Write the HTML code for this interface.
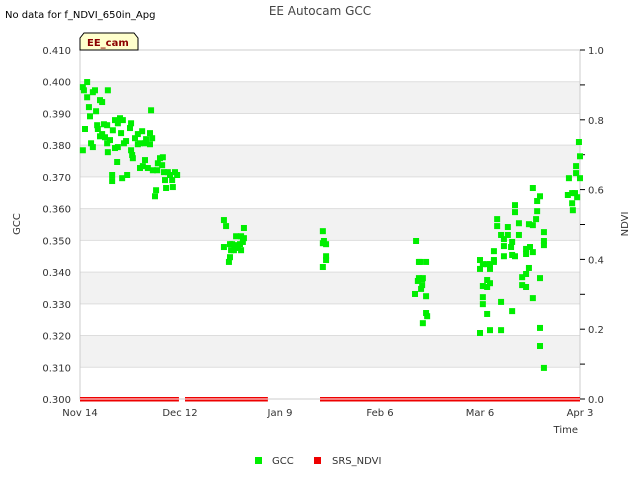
<!DOCTYPE html>
<html><head><meta charset="utf-8"><style>
body{margin:0;background:#fff;}
svg{font-family:"DejaVu Sans","Liberation Sans",sans-serif;}
</style></head><body>
<svg id="chart" width="640" height="480" xmlns="http://www.w3.org/2000/svg">
<text x="5" y="18" font-size="10" fill="#000">No data for f_NDVI_650in_Apg</text>
<text x="320" y="15" font-size="12" fill="#444" text-anchor="middle">EE Autocam GCC</text>
<g id="bands"></g>
<g id="grid"></g>
<rect x="80" y="50" width="500" height="349" fill="none" stroke="#ccc"/>
<g id="yticks"></g><g id="y2ticks"></g><g id="xticks"></g>
<g id="ndvi"></g><g id="gcc"></g>
<text x="20" y="224" font-size="10" fill="#333" text-anchor="middle" transform="rotate(-90 20 224)">GCC</text>
<text x="628" y="224" font-size="10" fill="#333" text-anchor="middle" transform="rotate(-90 628 224)">NDVI</text>
<text x="578" y="433" font-size="10" fill="#333" text-anchor="end">Time</text>
<g>
<path d="M80 50 L80 38 L84 33 L134 33 L138 38 L138 50 Z" fill="#ffffcc" stroke="#000"/>
<text x="87" y="46" font-size="10" font-weight="bold" fill="#8b0000">EE_cam</text>
</g>
<g>
<rect x="255" y="457" width="7" height="7" fill="#00ee00"/>
<text x="272" y="464" font-size="10" fill="#333">GCC</text>
<rect x="314" y="457" width="7" height="7" fill="#ee0000"/>
<text x="332" y="464" font-size="10" fill="#333">SRS_NDVI</text>
</g>
</svg>
<script>
const xTickLabels=["Nov 14","Dec 12","Jan 9","Feb 6","Mar 6","Apr 3"];
const xTickDays=[0,28,56,84,112,140];
const yTickLabels=["0.300","0.310","0.320","0.330","0.340","0.350","0.360","0.370","0.380","0.390","0.400","0.410"];
const y2TickLabels=["0.0","0.2","0.4","0.6","0.8","1.0"];
const gccDays=[0.8,1.1,2.0,2.0,1.4,0.8,2.5,2.8,3.1,3.6,3.6,4.2,4.5,4.8,5.0,5.6,6.2,5.6,6.2,6.7,7.0,7.6,7.8,7.6,7.8,8.4,9.0,9.0,9.2,9.8,9.8,10.4,10.6,10.6,11.2,11.5,11.8,12.0,12.3,12.9,13.2,14.0,14.3,14.3,14.6,14.8,15.4,16.2,16.2,16.8,16.8,17.6,18.2,18.2,19.0,19.6,19.9,20.2,20.4,21.0,21.3,21.6,21.8,22.4,23.0,23.2,23.5,23.8,24.1,24.6,25.2,25.8,26.0,26.6,27.2,19.6,18.5,17.4,
40.3,40.9,40.3,41.7,42.0,42.6,42.3,43.1,43.7,44.2,44.8,45.1,45.6,45.9,45.9,42.0,43.4,45.1,
68.0,68.0,68.0,68.3,68.9,68.9,68.9,
94.1,94.9,94.9,94.6,95.8,95.8,95.2,96.0,95.5,96.9,96.9,96.9,97.2,96.0,93.8,
112.0,112.0,112.8,114.0,114.8,114.8,115.9,115.9,115.9,116.8,116.8,117.9,118.7,118.7,118.7,119.8,119.8,120.7,121.0,121.0,121.8,121.8,121.8,122.9,122.9,124.9,124.9,126.0,125.7,126.8,126.8,126.8,128.0,128.0,127.7,128.8,129.9,129.9,129.9,114.0,112.8,114.0,114.8,112.8,112.8,114.0,112.0,114.8,117.9,117.9,121.0,123.8,123.8,124.9,124.9,125.7,126.8,128.8,128.8,128.8,129.9,
136.9,137.8,137.8,138.0,138.9,138.9,139.2,140.0,140.0,139.7,136.6,138.6];
const gccValues=[0.3983,0.3973,0.3999,0.3951,0.3851,0.3784,0.3920,0.3891,0.3806,0.3794,0.3967,0.3973,0.3907,0.3863,0.3851,0.3942,0.3936,0.3828,0.3835,0.3866,0.3825,0.3863,0.3973,0.3806,0.3778,0.3816,0.3687,0.3706,0.3847,0.3879,0.3791,0.3747,0.3794,0.3869,0.3885,0.3838,0.3696,0.3879,0.3806,0.3813,0.3706,0.3854,0.3784,0.3869,0.3769,0.3759,0.3822,0.3835,0.3803,0.3728,0.3806,0.3734,0.3806,0.3753,0.3728,0.3803,0.3910,0.3822,0.3721,0.3639,0.3658,0.3721,0.3743,0.3759,0.3737,0.3762,0.3715,0.3690,0.3665,0.3715,0.3706,0.3690,0.3668,0.3715,0.3706,0.3838,0.3819,0.3844,
0.3564,0.3545,0.3479,0.3432,0.3447,0.3488,0.3469,0.3469,0.3513,0.3476,0.3488,0.3469,0.3495,0.3539,0.3507,0.3488,0.3485,0.3513,
0.3529,0.3491,0.3416,0.3498,0.3488,0.3450,0.3438,
0.3498,0.3432,0.3381,0.3372,0.3378,0.3359,0.3432,0.3381,0.3347,0.3432,0.3324,0.3271,0.3261,0.3239,0.3331,
0.3438,0.3410,0.3425,0.3425,0.3425,0.3410,0.3466,0.3438,0.3432,0.3567,0.3545,0.3517,0.3504,0.3482,0.3450,0.3542,0.3517,0.3479,0.3495,0.3454,0.3611,0.3589,0.3450,0.3554,0.3517,0.3473,0.3457,0.3479,0.3551,0.3548,0.3463,0.3665,0.3624,0.3592,0.3567,0.3639,0.3526,0.3498,0.3485,0.3375,0.3356,0.3353,0.3365,0.3321,0.3299,0.3268,0.3208,0.3217,0.3217,0.3306,0.3277,0.3384,0.3359,0.3394,0.3353,0.3413,0.3318,0.3381,0.3224,0.3167,0.3098,
0.3696,0.3649,0.3617,0.3595,0.3734,0.3712,0.3636,0.3696,0.3765,0.3810,0.3643,0.3649];
const ndviStartDays=[0,29.4,67.2];
const ndviEndDays=[27.7,52.6,140];
const ndviValue=[0,0,0];

const NS="http://www.w3.org/2000/svg";
const X0=80,X1=580,Y0=399,Y1=50;
function xs(d){return X0+(d-0)/(140-0)*(X1-X0);}
function ys(v){return Y0-(v-0.300)/(0.410-0.300)*(Y0-Y1);}
function y2s(v){return Y0-v*(Y0-Y1);}
function mk(tag,attrs,parent){const e=document.createElementNS(NS,tag);for(const k in attrs)e.setAttribute(k,attrs[k]);document.getElementById(parent).appendChild(e);return e;}

for(let i=0;i<yTickLabels.length;i++){
  const v=parseFloat(yTickLabels[i]);
  if(i%2===1&&i<yTickLabels.length-1){
    const b=mk('rect',{x:X0,y:ys(v+0.01),width:X1-X0,height:ys(v)-ys(v+0.01),fill:'#f2f2f2'},'bands');
    
    
  }
  const g=mk('line',{x1:X0,x2:X1,y1:ys(v),y2:ys(v),stroke:'#ddd'},'grid');
  
  
  const t=mk('text',{x:71,y:ys(v)+4,'font-size':10,fill:'#333','text-anchor':'end'},'yticks');
  t.textContent=yTickLabels[i];
  
  
}
for(let i=0;i<=10;i++){
  const yy=y2s(i/10);
  const l=mk('line',{x1:X1,x2:X1+5,y1:yy,y2:yy,stroke:'#000'},'y2ticks');
  
  
}
for(let i=0;i<y2TickLabels.length;i++){
  const t=mk('text',{x:588,y:y2s(parseFloat(y2TickLabels[i]))+4,'font-size':10,fill:'#333'},'y2ticks');
  t.textContent=y2TickLabels[i];
  
  
}
for(let i=0;i<xTickLabels.length;i++){
  const t=mk('text',{x:xs(xTickDays[i]),y:416,'font-size':10,fill:'#333','text-anchor':'middle'},'xticks');
  t.textContent=xTickLabels[i];
  
  
}
for(let i=0;i<ndviStartDays.length;i++){
  const x1=xs(ndviStartDays[i]),x2=xs(ndviEndDays[i]),yy=y2s(ndviValue[i]);
  const r=mk('rect',{x:x1,y:yy-2,width:x2-x1,height:4.5,fill:'#ee0000'},'ndvi');
  
  
  mk('line',{x1:x1,x2:x2,y1:yy,y2:yy,stroke:'#fff','stroke-width':1},'ndvi');
}
for(let i=0;i<gccDays.length;i++){
  const p=mk('rect',{x:xs(gccDays[i])-3,y:ys(gccValues[i])-3,width:6,height:6,fill:'#00ee00'},'gcc');
  
  
}
</script>
</body></html>
